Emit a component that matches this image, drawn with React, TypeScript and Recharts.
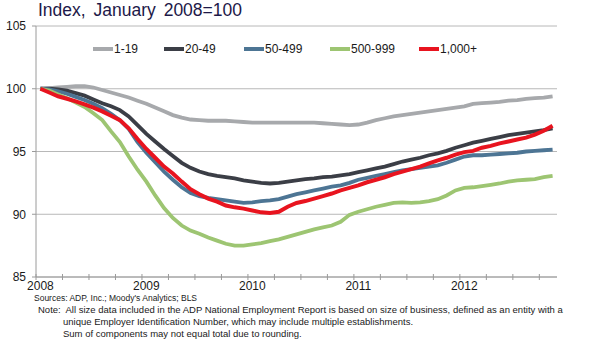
import { LineChart, Line, XAxis, YAxis, CartesianGrid } from 'recharts';

// months Jan 2008 .. Nov 2012
const years = [2008, 2009, 2010, 2011, 2012];
const months = years
  .flatMap((y) => Array.from({ length: 12 }, (_, m) => `${y}-${String(m + 1).padStart(2, '0')}`))
  .slice(0, 59);

const seriesNames = ['1-19', '20-49', '50-499', '500-999', '1,000+'];
const seriesColors = ['#a7a9ac', '#3b3e46', '#4d7594', '#9dc572', '#e8141f'];

const size1to19 = [
  100.0, 100.05, 100.1, 100.15, 100.2, 100.2, 100.1, 99.9, 99.7, 99.5,
  99.3, 99.05, 98.8, 98.5, 98.2, 97.9, 97.7, 97.55, 97.5, 97.45,
  97.45, 97.45, 97.4, 97.35, 97.3, 97.3, 97.3, 97.3, 97.3, 97.3,
  97.3, 97.3, 97.25, 97.2, 97.15, 97.1, 97.15, 97.3, 97.5, 97.65,
  97.8, 97.9, 98.0, 98.1, 98.2, 98.3, 98.4, 98.5, 98.6, 98.8,
  98.85, 98.9, 98.95, 99.05, 99.1, 99.2, 99.25, 99.3, 99.4,
];
const size20to49 = [
  100.0, 100.0, 99.95, 99.85, 99.65, 99.45, 99.15, 98.85, 98.6, 98.3,
  97.8, 97.1, 96.4, 95.8, 95.2, 94.65, 94.1, 93.7, 93.4, 93.2,
  93.05, 92.95, 92.85, 92.7, 92.6, 92.5, 92.45, 92.5, 92.6, 92.7,
  92.8, 92.85, 92.95, 93.0, 93.1, 93.2, 93.35, 93.5, 93.65, 93.8,
  94.0, 94.2, 94.35, 94.5, 94.7, 94.85, 95.05, 95.3, 95.5, 95.7,
  95.85, 96.0, 96.15, 96.3, 96.4, 96.5, 96.6, 96.7, 96.85,
];
const size50to499 = [
  100.0, 99.95, 99.8, 99.6, 99.35, 99.1, 98.8, 98.45, 98.0, 97.5,
  96.8, 95.75, 94.9, 94.15, 93.4, 92.75, 92.15, 91.7, 91.45, 91.3,
  91.2, 91.1, 91.0, 90.9, 90.95, 91.05, 91.1, 91.2, 91.4, 91.6,
  91.75, 91.9, 92.05, 92.2, 92.3, 92.5, 92.75, 92.9, 93.05, 93.2,
  93.35, 93.5, 93.6, 93.7, 93.8, 93.9, 94.1, 94.35, 94.6, 94.7,
  94.7, 94.75, 94.8, 94.85, 94.9, 95.0, 95.05, 95.1, 95.15,
];
const size500to999 = [
  100.0, 99.85, 99.55, 99.25, 98.9, 98.55, 98.05, 97.5, 96.6, 95.75,
  94.6, 93.55, 92.6, 91.5, 90.5, 89.7, 89.1, 88.7, 88.45, 88.15,
  87.9, 87.65, 87.5, 87.5, 87.6, 87.7, 87.85, 88.0, 88.2, 88.4,
  88.6, 88.8, 88.95, 89.1, 89.4, 89.95, 90.2, 90.4, 90.6, 90.75,
  90.9, 90.95, 90.9, 90.95, 91.05, 91.2, 91.5, 91.9, 92.1, 92.15,
  92.25, 92.35, 92.45, 92.6, 92.7, 92.75, 92.8, 92.95, 93.05,
];
const size1000plus = [
  100.0, 99.7, 99.4, 99.2, 99.0, 98.75, 98.5, 98.2, 97.85, 97.5,
  96.85, 96.0, 95.2, 94.5, 93.8, 93.25, 92.6, 92.0, 91.6, 91.25,
  91.0, 90.7, 90.55, 90.45, 90.3, 90.15, 90.1, 90.2, 90.6, 90.9,
  91.05, 91.25, 91.45, 91.65, 91.9, 92.1, 92.3, 92.55, 92.75, 92.95,
  93.2, 93.4, 93.6, 93.8, 94.05, 94.3, 94.5, 94.75, 94.95, 95.05,
  95.3, 95.45, 95.65, 95.8, 95.95, 96.1, 96.35, 96.65, 97.05,
];

const yTicks = [85, 90, 95, 100, 105];

const seriesData = [size1to19, size20to49, size50to499, size500to999, size1000plus];
const keys = ['s1', 's2', 's3', 's4', 's5'];

const rows = months.map((m, i) => {
  const row: any = { month: m };
  keys.forEach((k, j) => (row[k] = seriesData[j][i]));
  return row;
});

const FONT = '"Liberation Sans", Arial, sans-serif';
const PLOT_W = 521;
const BAND = PLOT_W / months.length;
const AXIS = '#9a9a9a';

function MonthTick(props: any) {
  const { x, y, index, payload } = props;
  return (
    <g>
      {index % 3 === 0 && (
        <line x1={x - BAND / 2} x2={x - BAND / 2} y1={y - 3} y2={y + 3} stroke={AXIS} />
      )}
      {index % 12 === 0 && (
        <text x={x} y={y + 13} textAnchor="middle" fill="#1a1a1a" fontSize={12} fontFamily={FONT}>
          {String(payload.value).slice(0, 4)}
        </text>
      )}
    </g>
  );
}

const legendX = [93, 164, 244, 330, 419];

export default function App() {
  return (
    <div
      style={{
        position: 'absolute',
        left: 0,
        top: 0,
        width: 599,
        height: 343,
        background: '#fff',
        fontFamily: FONT,
        overflow: 'hidden',
      }}
    >
      <div
        style={{
          position: 'absolute',
          left: 38,
          top: 0,
          fontSize: 17.5,
          wordSpacing: 3,
          color: '#1d1848',
          lineHeight: '20px',
          whiteSpace: 'nowrap',
        }}
      >
        Index, January 2008=100
      </div>

      <LineChart
        width={599}
        height={343}
        data={rows}
        margin={{ top: 26, right: 42, bottom: 36, left: 0 }}
      >
        <CartesianGrid vertical={false} stroke="#b8b8b8" />
        <XAxis
          dataKey="month"
          scale="band"
          interval={0}
          height={30}
          tickLine={false}
          tickSize={0}
          tickMargin={0}
          axisLine={{ stroke: AXIS }}
          tick={(p: any) => <MonthTick {...p} />}
        />
        <YAxis
          domain={[85, 105]}
          ticks={yTicks}
          width={36}
          tickSize={4}
          tickMargin={6}
          axisLine={{ stroke: AXIS }}
          tickLine={{ stroke: AXIS }}
          tick={{ fill: '#1a1a1a', fontSize: 12, fontFamily: FONT }}
        />
        <YAxis yAxisId="r" orientation="right" width={0} tick={false} tickLine={false} axisLine={{ stroke: '#b8b8b8' }} />
        {keys.map((k, j) => (
          <Line
            key={k}
            dataKey={k}
            name={seriesNames[j]}
            type="linear"
            stroke={seriesColors[j]}
            strokeWidth={j === 4 ? 4 : 3.8}
            dot={false}
            isAnimationActive={false}
          />
        ))}
      </LineChart>

      {seriesNames.map((n, j) => (
        <div
          key={n}
          style={{
            position: 'absolute',
            left: legendX[j],
            top: 41,
            height: 16,
            display: 'flex',
            alignItems: 'center',
            fontSize: 12,
            color: '#1a1a1a',
            whiteSpace: 'nowrap',
          }}
        >
          <span style={{ display: 'inline-block', width: 20, height: 4, background: seriesColors[j], marginRight: 1 }} />
          {n}
        </div>
      ))}

      <div style={{ position: 'absolute', left: 34, top: 292, fontSize: 8.5, lineHeight: '12px', color: '#1a1a1a', whiteSpace: 'nowrap' }}>
        Sources: ADP, Inc.; Moody's Analytics; BLS
      </div>
      <div style={{ position: 'absolute', left: 38, top: 304, fontSize: 9.5, lineHeight: '12px', color: '#1a1a1a', whiteSpace: 'nowrap' }}>
        <div>Note:&nbsp; All size data included in the ADP National Employment Report is based on size of business, defined as an entity with a</div>
        <div style={{ paddingLeft: 25 }}>unique Employer Identification Number, which may include multiple establishments.</div>
        <div style={{ paddingLeft: 25 }}>Sum of components may not equal total due to rounding.</div>
      </div>
    </div>
  );
}
